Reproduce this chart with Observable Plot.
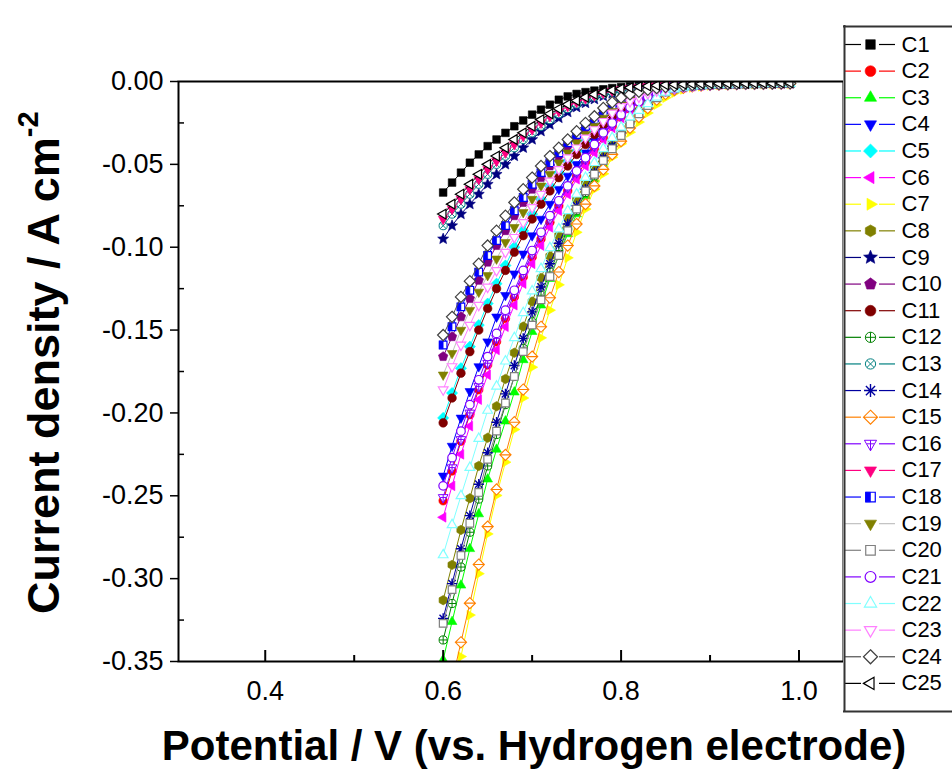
<!DOCTYPE html>
<html><head><meta charset="utf-8">
<script src="https://cdn.jsdelivr.net/npm/d3@7"></script>
<script src="https://cdn.jsdelivr.net/npm/@observablehq/plot@0.6"></script>
<style>
body{margin:0;background:#fff;}
#wrap{position:relative;width:952px;height:772px;overflow:hidden;background:#fff;}
#wrap svg{position:absolute;}
</style></head><body><div id="wrap"></div>
<script>
// ---------- data ----------
const V = [0.60,0.61,0.62,0.63,0.64,0.65,0.66,0.67,0.68,0.69,0.70,0.71,0.72,0.73,0.74,0.75,0.76,0.77,0.78,0.79,0.80,0.81,0.82,0.83,0.84,0.85,0.86,0.87,0.88,0.89,0.90,0.91,0.92,0.93,0.94,0.95,0.96,0.97,0.98,0.99];
const C1 = [-0.067,-0.061,-0.055,-0.049,-0.044,-0.039,-0.035,-0.031,-0.027,-0.0235,-0.020,-0.017,-0.014,-0.011,-0.009,-0.0075,-0.0064,-0.0055,-0.0047,-0.004,-0.0034,-0.0029,-0.0025,-0.0022,-0.002,-0.0018,-0.0016,-0.0015,-0.0014,-0.0013,-0.0012,-0.0011,-0.0011,-0.001,-0.001,-0.0009,-0.0009,-0.0009,-0.0008,-0.0008];
const C2 = [-0.253,-0.235,-0.217,-0.201,-0.186,-0.171,-0.157,-0.143,-0.130,-0.118,-0.106,-0.095,-0.085,-0.075,-0.066,-0.057,-0.049,-0.041,-0.034,-0.027,-0.0215,-0.0167,-0.0128,-0.0098,-0.0075,-0.0057,-0.0044,-0.0035,-0.0028,-0.0023,-0.002,-0.0018,-0.0016,-0.0015,-0.0014,-0.0013,-0.0013,-0.0012,-0.0012,-0.0011];
const C3 = [-0.349,-0.326,-0.304,-0.282,-0.261,-0.240,-0.222,-0.205,-0.1875,-0.168,-0.151,-0.135,-0.119,-0.105,-0.092,-0.080,-0.069,-0.059,-0.050,-0.042,-0.034,-0.0265,-0.020,-0.015,-0.0102,-0.0068,-0.0047,-0.0035,-0.0028,-0.0023,-0.002,-0.0018,-0.0017,-0.0016,-0.0015,-0.0014,-0.0014,-0.0013,-0.0013,-0.0012];
const C4 = [-0.238,-0.220,-0.203,-0.187,-0.172,-0.157,-0.142,-0.129,-0.116,-0.104,-0.093,-0.083,-0.074,-0.065,-0.057,-0.050,-0.043,-0.036,-0.030,-0.024,-0.019,-0.015,-0.0115,-0.0088,-0.0067,-0.0052,-0.0041,-0.0033,-0.0027,-0.0023,-0.002,-0.0018,-0.0016,-0.0015,-0.0014,-0.0013,-0.0013,-0.0012,-0.0012,-0.0011];
const C5 = [-0.203,-0.188,-0.173,-0.160,-0.147,-0.134,-0.122,-0.111,-0.100,-0.090,-0.080,-0.071,-0.063,-0.055,-0.048,-0.042,-0.036,-0.030,-0.025,-0.020,-0.016,-0.0125,-0.0097,-0.0075,-0.0058,-0.0046,-0.0037,-0.003,-0.0025,-0.0022,-0.0019,-0.0017,-0.0016,-0.0015,-0.0014,-0.0013,-0.0013,-0.0012,-0.0012,-0.0011];
const C6 = [-0.263,-0.244,-0.225,-0.208,-0.192,-0.177,-0.162,-0.148,-0.135,-0.122,-0.110,-0.099,-0.088,-0.078,-0.068,-0.059,-0.051,-0.043,-0.035,-0.028,-0.022,-0.017,-0.013,-0.010,-0.0077,-0.0059,-0.0045,-0.0036,-0.0029,-0.0024,-0.002,-0.0018,-0.0016,-0.0015,-0.0014,-0.0013,-0.0013,-0.0012,-0.0012,-0.0011];
const C7 = [-0.398,-0.372,-0.347,-0.322,-0.297,-0.273,-0.2498,-0.2297,-0.210,-0.191,-0.1724,-0.1547,-0.138,-0.1227,-0.1064,-0.091,-0.077,-0.065,-0.0557,-0.0457,-0.0376,-0.0306,-0.0245,-0.019,-0.014,-0.0098,-0.0068,-0.0048,-0.0036,-0.0029,-0.0024,-0.0021,-0.0019,-0.0017,-0.0016,-0.0015,-0.0014,-0.0014,-0.0013,-0.0013];
const C8 = [-0.313,-0.2917,-0.2706,-0.2515,-0.232,-0.215,-0.196,-0.1795,-0.1637,-0.1479,-0.1328,-0.1185,-0.1054,-0.093,-0.082,-0.071,-0.061,-0.052,-0.044,-0.037,-0.0295,-0.023,-0.0175,-0.013,-0.009,-0.006,-0.0043,-0.0033,-0.0026,-0.0022,-0.0019,-0.0017,-0.0016,-0.0015,-0.0014,-0.0014,-0.0013,-0.0013,-0.0012,-0.0012];
const C9 = [-0.095,-0.087,-0.080,-0.074,-0.068,-0.062,-0.056,-0.050,-0.045,-0.040,-0.035,-0.030,-0.026,-0.022,-0.0185,-0.0155,-0.013,-0.0107,-0.0088,-0.0072,-0.0059,-0.0048,-0.004,-0.0034,-0.0029,-0.0025,-0.0022,-0.0019,-0.0017,-0.0016,-0.0015,-0.0014,-0.0013,-0.0012,-0.0012,-0.0011,-0.0011,-0.001,-0.001,-0.001];
const C10 = [-0.166,-0.154,-0.142,-0.131,-0.120,-0.109,-0.099,-0.090,-0.081,-0.073,-0.065,-0.058,-0.051,-0.045,-0.039,-0.034,-0.029,-0.024,-0.020,-0.016,-0.013,-0.010,-0.008,-0.0063,-0.005,-0.004,-0.0033,-0.0028,-0.0024,-0.0021,-0.0018,-0.0016,-0.0015,-0.0014,-0.0013,-0.0013,-0.0012,-0.0012,-0.0011,-0.0011];
const C11 = [-0.206,-0.191,-0.176,-0.163,-0.150,-0.137,-0.125,-0.114,-0.103,-0.093,-0.083,-0.074,-0.066,-0.058,-0.051,-0.044,-0.038,-0.032,-0.026,-0.021,-0.017,-0.013,-0.010,-0.0078,-0.006,-0.0048,-0.0038,-0.0031,-0.0026,-0.0022,-0.0019,-0.0017,-0.0016,-0.0015,-0.0014,-0.0013,-0.0013,-0.0012,-0.0012,-0.0011];
const C12 = [-0.337,-0.315,-0.293,-0.272,-0.252,-0.232,-0.213,-0.195,-0.178,-0.161,-0.145,-0.129,-0.115,-0.102,-0.089,-0.078,-0.067,-0.057,-0.048,-0.040,-0.032,-0.025,-0.019,-0.0142,-0.0097,-0.0064,-0.0045,-0.0034,-0.0027,-0.0023,-0.002,-0.0018,-0.0017,-0.0016,-0.0015,-0.0014,-0.0014,-0.0013,-0.0013,-0.0012];
const C13 = [-0.087,-0.080,-0.074,-0.068,-0.062,-0.056,-0.050,-0.045,-0.040,-0.035,-0.031,-0.027,-0.023,-0.0195,-0.0163,-0.0136,-0.0113,-0.0093,-0.0077,-0.0063,-0.0052,-0.0043,-0.0036,-0.0031,-0.0027,-0.0023,-0.002,-0.0018,-0.0016,-0.0015,-0.0014,-0.0013,-0.0012,-0.0012,-0.0011,-0.0011,-0.001,-0.001,-0.001,-0.0009];
const C14 = [-0.324,-0.303,-0.282,-0.262,-0.243,-0.224,-0.2056,-0.1885,-0.1714,-0.155,-0.139,-0.124,-0.110,-0.0976,-0.086,-0.075,-0.065,-0.055,-0.046,-0.039,-0.031,-0.0245,-0.0188,-0.014,-0.0095,-0.0063,-0.0045,-0.0034,-0.0027,-0.0023,-0.002,-0.0018,-0.0017,-0.0016,-0.0015,-0.0014,-0.0014,-0.0013,-0.0013,-0.0012];
const C15 = [-0.386,-0.362,-0.3384,-0.3148,-0.2915,-0.2686,-0.2462,-0.2253,-0.2056,-0.1859,-0.166,-0.148,-0.1305,-0.115,-0.099,-0.086,-0.074,-0.063,-0.053,-0.044,-0.036,-0.028,-0.0215,-0.016,-0.011,-0.0075,-0.0052,-0.0038,-0.003,-0.0025,-0.0021,-0.0019,-0.0017,-0.0016,-0.0015,-0.0014,-0.0014,-0.0013,-0.0013,-0.0012];
const C16 = [-0.251,-0.233,-0.216,-0.200,-0.184,-0.170,-0.155,-0.141,-0.128,-0.116,-0.104,-0.093,-0.083,-0.073,-0.064,-0.055,-0.047,-0.039,-0.032,-0.026,-0.0205,-0.016,-0.0123,-0.0094,-0.0072,-0.0055,-0.0043,-0.0034,-0.0028,-0.0023,-0.002,-0.0018,-0.0016,-0.0015,-0.0014,-0.0013,-0.0013,-0.0012,-0.0012,-0.0011];
const C17 = [-0.083,-0.077,-0.071,-0.065,-0.059,-0.053,-0.048,-0.043,-0.038,-0.033,-0.029,-0.025,-0.021,-0.018,-0.015,-0.0125,-0.0104,-0.0086,-0.0071,-0.0058,-0.0048,-0.004,-0.0034,-0.0029,-0.0025,-0.0022,-0.0019,-0.0017,-0.0016,-0.0015,-0.0014,-0.0013,-0.0012,-0.0012,-0.0011,-0.0011,-0.001,-0.001,-0.001,-0.0009];
const C18 = [-0.159,-0.148,-0.136,-0.126,-0.115,-0.105,-0.096,-0.087,-0.078,-0.070,-0.062,-0.055,-0.049,-0.043,-0.037,-0.032,-0.027,-0.023,-0.019,-0.015,-0.012,-0.0095,-0.0075,-0.006,-0.0048,-0.0039,-0.0032,-0.0027,-0.0023,-0.002,-0.0018,-0.0016,-0.0015,-0.0014,-0.0013,-0.0013,-0.0012,-0.0012,-0.0011,-0.0011];
const C19 = [-0.177,-0.164,-0.150,-0.138,-0.127,-0.117,-0.107,-0.097,-0.088,-0.079,-0.071,-0.063,-0.056,-0.049,-0.043,-0.037,-0.032,-0.027,-0.022,-0.018,-0.014,-0.011,-0.0087,-0.0068,-0.0054,-0.0043,-0.0035,-0.0029,-0.0025,-0.0021,-0.0019,-0.0017,-0.0015,-0.0014,-0.0014,-0.0013,-0.0012,-0.0012,-0.0011,-0.0011];
const C20 = [-0.327,-0.3066,-0.286,-0.2666,-0.248,-0.228,-0.211,-0.194,-0.178,-0.163,-0.147,-0.1318,-0.1177,-0.105,-0.090,-0.077,-0.066,-0.056,-0.0477,-0.0406,-0.0326,-0.0255,-0.0195,-0.0145,-0.0098,-0.0064,-0.0045,-0.0034,-0.0027,-0.0023,-0.002,-0.0018,-0.0017,-0.0016,-0.0015,-0.0014,-0.0014,-0.0013,-0.0013,-0.0012];
const C21 = [-0.244,-0.227,-0.211,-0.195,-0.180,-0.166,-0.152,-0.138,-0.126,-0.114,-0.102,-0.091,-0.081,-0.072,-0.063,-0.054,-0.046,-0.038,-0.031,-0.025,-0.020,-0.0155,-0.012,-0.0092,-0.007,-0.0054,-0.0042,-0.0034,-0.0028,-0.0023,-0.002,-0.0018,-0.0016,-0.0015,-0.0014,-0.0013,-0.0013,-0.0012,-0.0012,-0.0011];
const C22 = [-0.2857,-0.2675,-0.250,-0.233,-0.2155,-0.1985,-0.184,-0.1688,-0.1547,-0.1396,-0.1265,-0.113,-0.1004,-0.089,-0.078,-0.068,-0.058,-0.049,-0.0406,-0.034,-0.0276,-0.0215,-0.0175,-0.0135,-0.0095,-0.0065,-0.0046,-0.0035,-0.0028,-0.0023,-0.002,-0.0018,-0.0016,-0.0015,-0.0014,-0.0014,-0.0013,-0.0013,-0.0012,-0.0012];
const C23 = [-0.186,-0.172,-0.159,-0.147,-0.135,-0.124,-0.114,-0.103,-0.094,-0.085,-0.076,-0.068,-0.060,-0.053,-0.046,-0.040,-0.034,-0.029,-0.024,-0.019,-0.015,-0.012,-0.0093,-0.0072,-0.0056,-0.0045,-0.0036,-0.003,-0.0025,-0.0022,-0.0019,-0.0017,-0.0016,-0.0015,-0.0014,-0.0013,-0.0013,-0.0012,-0.0012,-0.0011];
const C24 = [-0.153,-0.142,-0.130,-0.1205,-0.110,-0.099,-0.090,-0.081,-0.073,-0.065,-0.058,-0.051,-0.045,-0.040,-0.035,-0.030,-0.025,-0.021,-0.016,-0.0125,-0.0098,-0.0078,-0.0062,-0.005,-0.004,-0.0033,-0.0028,-0.0024,-0.0021,-0.0019,-0.0017,-0.0016,-0.0015,-0.0014,-0.0013,-0.0013,-0.0012,-0.0012,-0.0011,-0.0011];
const C25 = [-0.080,-0.074,-0.068,-0.062,-0.056,-0.050,-0.045,-0.040,-0.035,-0.031,-0.027,-0.023,-0.0195,-0.0165,-0.0138,-0.0115,-0.0095,-0.0078,-0.0064,-0.0053,-0.0044,-0.0037,-0.0031,-0.0027,-0.0023,-0.002,-0.0018,-0.0016,-0.0015,-0.0014,-0.0013,-0.0012,-0.0012,-0.0011,-0.0011,-0.001,-0.001,-0.001,-0.0009,-0.0009];

const seriesNames = ["C1","C2","C3","C4","C5","C6","C7","C8","C9","C10","C11","C12","C13","C14","C15","C16","C17","C18","C19","C20","C21","C22","C23","C24","C25"];
const seriesValues = [C1,C2,C3,C4,C5,C6,C7,C8,C9,C10,C11,C12,C13,C14,C15,C16,C17,C18,C19,C20,C21,C22,C23,C24,C25];
const markColors = ["#000000","#ff0000","#00ff00","#0000ff","#00ffff","#ff00ff","#ffff00","#808000","#000080","#800080","#800000","#008000","#008080","#0000a0","#ff8000","#8000ff","#ff0080","#0000ff","#808000","#808080","#8000ff","#80ffff","#ff80ff","#404040","#000000"];
const lineColors = ["#000000","#ff0000","#00ff00","#0000ff","#00ffff","#ff00ff","#ffff00","#808000","#000080","#800080","#800000","#008000","#008080","#0000a0","#ff8000","#8000ff","#ff0080","#0000ff","#c0c0c0","#808080","#8000ff","#80ffff","#ff80ff","#505050","#000000"];
const markerKinds = ["square","circle","triUp","triDown","diamond","triLeft","triRight","hexagon","star","pentagon","ball","circlePlus","circleX","asterisk","diamondBar","triDownPlus","triDown","halfSquare","triDown","openSquare","openCircle","openTriUp","openTriDown","openDiamond","openTriLeft"];

const xMajor = [0.4, 0.6, 0.8, 1.0];
const xMinor = [0.5, 0.7, 0.9];
const yMajor = [0, -0.05, -0.10, -0.15, -0.20, -0.25, -0.30, -0.35];
const yMinor = [-0.025, -0.075, -0.125, -0.175, -0.225, -0.275, -0.325];

// ---------- symbols ----------
const TAU = Math.PI * 2;
function poly(n, rot, k) {
  return {draw(ctx, size) {
    const a = Math.sqrt(size / Math.PI) * k;
    for (let i = 0; i < n; i++) {
      const t = rot + i * TAU / n;
      const px = a * Math.cos(t), py = a * Math.sin(t);
      if (i) ctx.lineTo(px, py); else ctx.moveTo(px, py);
    }
    ctx.closePath();
  }};
}
const SYM = {
  square: poly(4, Math.PI / 4, 1.25),
  circle: {draw(ctx, size) { const a = Math.sqrt(size / Math.PI); ctx.moveTo(a, 0); ctx.arc(0, 0, a, 0, TAU); }},
  triUp: poly(3, -Math.PI / 2, 1.3),
  triDown: poly(3, Math.PI / 2, 1.3),
  triLeft: poly(3, Math.PI, 1.3),
  triRight: poly(3, 0, 1.3),
  diamond: poly(4, -Math.PI / 2, 1.3),
  hexagon: poly(6, -Math.PI / 2, 1.1),
  pentagon: poly(5, -Math.PI / 2, 1.15),
  star: {draw(ctx, size) {
    const a = Math.sqrt(size / Math.PI) * 1.35, b = a * 0.45;
    for (let i = 0; i < 10; i++) {
      const t = -Math.PI / 2 + i * Math.PI / 5, rr = i % 2 ? b : a;
      const px = rr * Math.cos(t), py = rr * Math.sin(t);
      if (i) ctx.lineTo(px, py); else ctx.moveTo(px, py);
    }
    ctx.closePath();
  }},
  circlePlus: {draw(ctx, size) { const a = Math.sqrt(size / Math.PI) * 0.95; ctx.moveTo(a, 0); ctx.arc(0, 0, a, 0, TAU); ctx.moveTo(-a, 0); ctx.lineTo(a, 0); ctx.moveTo(0, -a); ctx.lineTo(0, a); }},
  circleX: {draw(ctx, size) { const a = Math.sqrt(size / Math.PI) * 0.95, d = a * 0.7071; ctx.moveTo(a, 0); ctx.arc(0, 0, a, 0, TAU); ctx.moveTo(-d, -d); ctx.lineTo(d, d); ctx.moveTo(d, -d); ctx.lineTo(-d, d); }},
  asterisk: {draw(ctx, size) { const a = Math.sqrt(size / Math.PI) * 1.2; for (let i = 0; i < 4; i++) { const t = i * Math.PI / 4; ctx.moveTo(-a * Math.cos(t), -a * Math.sin(t)); ctx.lineTo(a * Math.cos(t), a * Math.sin(t)); } }},
  diamondBar: {draw(ctx, size) { const a = Math.sqrt(size / Math.PI) * 1.3; ctx.moveTo(0, -a); ctx.lineTo(a, 0); ctx.lineTo(0, a); ctx.lineTo(-a, 0); ctx.closePath(); ctx.moveTo(-a, 0); ctx.lineTo(a, 0); }},
  triDownPlus: {draw(ctx, size) { const a = Math.sqrt(size / Math.PI) * 1.3; const h = a / 2, w = a * 0.866; ctx.moveTo(-w, -h); ctx.lineTo(w, -h); ctx.lineTo(0, a); ctx.closePath(); ctx.moveTo(0, -h); ctx.lineTo(0, a); ctx.moveTo(-w * 0.6, 0); ctx.lineTo(w * 0.6, 0); }},
  halfLeft: {draw(ctx, size) { const s = Math.sqrt(size / Math.PI) * 1.25 * 0.7071; ctx.moveTo(-s, -s); ctx.lineTo(0, -s); ctx.lineTo(0, s); ctx.lineTo(-s, s); ctx.closePath(); }}
};

function dotMarks(data, kind, color, r, opts) {
  const base = Object.assign({x: "x", y: "y", r}, opts || {});
  const filled = (sym) => Plot.dot(data, {...base, symbol: sym, fill: color, stroke: color, strokeWidth: 0.6});
  const open = (sym, sw) => Plot.dot(data, {...base, symbol: sym, fill: "white", stroke: color, strokeWidth: sw || 1.2});
  switch (kind) {
    case "square": return [filled(SYM.square)];
    case "circle": return [filled(SYM.circle)];
    case "ball": return [filled(SYM.circle)];
    case "triUp": return [filled(SYM.triUp)];
    case "triDown": return [filled(SYM.triDown)];
    case "triLeft": return [filled(SYM.triLeft)];
    case "triRight": return [filled(SYM.triRight)];
    case "diamond": return [filled(SYM.diamond)];
    case "hexagon": return [filled(SYM.hexagon)];
    case "pentagon": return [filled(SYM.pentagon)];
    case "star": return [filled(SYM.star)];
    case "circlePlus": return [open(SYM.circlePlus, 1)];
    case "circleX": return [open(SYM.circleX, 1)];
    case "asterisk": return [Plot.dot(data, {...base, symbol: SYM.asterisk, fill: "none", stroke: color, strokeWidth: 1.4})];
    case "diamondBar": return [open(SYM.diamondBar, 1.1)];
    case "triDownPlus": return [open(SYM.triDownPlus, 1)];
    case "halfSquare": return [open(SYM.square, 1.2), filled(SYM.halfLeft)];
    case "openSquare": return [open(SYM.square)];
    case "openCircle": return [open(SYM.circle)];
    case "openTriUp": return [open(SYM.triUp)];
    case "openTriDown": return [open(SYM.triDown)];
    case "openDiamond": return [open(SYM.diamond)];
    case "openTriLeft": return [open(SYM.triLeft)];
  }
  return [];
}

// ---------- main chart ----------
const FONT = "'Liberation Sans', Arial, Helvetica, sans-serif";
const xLo = 0.3025, xHi = 1.05, yLo = -0.35, yHi = 0;
const pxX = (xHi - xLo) / 665, pxY = (yHi - yLo) / 580; // data units per pixel

const marks = [];
seriesValues.forEach((vals, i) => {
  const data = vals.map((v, k) => ({x: V[k], y: v}));
  marks.push(Plot.line(data, {x: "x", y: "y", stroke: lineColors[i], strokeWidth: 1, clip: true}));
  marks.push(...dotMarks(data, markerKinds[i], markColors[i], 4.3, {clip: true}));
});
// ticks
marks.push(Plot.ruleX(xMajor, {x: d => d, y1: yLo, y2: yLo + 11 * pxY, stroke: "#000", strokeWidth: 2}));
marks.push(Plot.ruleX(xMinor, {x: d => d, y1: yLo, y2: yLo + 6 * pxY, stroke: "#000", strokeWidth: 2}));
marks.push(Plot.ruleY(yMajor, {y: d => d, x1: xLo - 8 * pxX, x2: xLo, stroke: "#000", strokeWidth: 1.5}));
marks.push(Plot.ruleY(yMinor, {y: d => d, x1: xLo, x2: xLo + 6 * pxX, stroke: "#000", strokeWidth: 1.5}));
marks.push(Plot.frame({stroke: "#000", strokeWidth: 2}));
// tick labels
marks.push(Plot.text(yMajor, {x: xLo, y: d => d, text: d => d.toFixed(2), textAnchor: "end", dx: -15, fontSize: 27, fill: "#000", lineAnchor: "middle"}));
marks.push(Plot.text(xMajor, {x: d => d, y: yLo, text: d => d.toFixed(1), textAnchor: "middle", dy: 30, fontSize: 27, fill: "#000", lineAnchor: "middle"}));

const chart = Plot.plot({
  width: 952, height: 772,
  marginLeft: 178, marginRight: 109, marginTop: 81, marginBottom: 111,
  x: {domain: [xLo, xHi], axis: null},
  y: {domain: [yLo, yHi], axis: null},
  style: {fontFamily: FONT, background: "white", overflow: "visible"},
  marks
});
const wrap = document.getElementById("wrap");
chart.style.left = "0px"; chart.style.top = "0px";
wrap.appendChild(chart);

// axis titles
const svg = d3.select(chart);
svg.append("text")
  .attr("x", 534).attr("y", 760)
  .attr("text-anchor", "middle")
  .attr("font-family", FONT).attr("font-weight", "bold").attr("font-size", 42)
  .attr("fill", "#000")
  .text("Potential / V (vs. Hydrogen electrode)");
const yt = svg.append("text")
  .attr("transform", "translate(59,614) rotate(-90)")
  .attr("text-anchor", "start")
  .attr("font-family", FONT).attr("font-weight", "bold").attr("font-size", 45)
  .attr("fill", "#000");
yt.append("tspan").text("Current density / A cm");
yt.append("tspan").attr("dy", -21).attr("font-size", 29).text("-2");

// ---------- legend (second Plot, pixel identity scales) ----------
const legendMarks = [];
const LH = 687, LW = 109;
seriesNames.forEach((name, i) => {
  const yy = 19 + i * 26.62;
  legendMarks.push(Plot.ruleY([yy], {x1: 2, x2: 18, stroke: lineColors[i], strokeWidth: 1.2}));
  legendMarks.push(Plot.ruleY([yy], {x1: 36, x2: 52, stroke: lineColors[i], strokeWidth: 1.2}));
  legendMarks.push(...dotMarks([{x: 27, y: yy}], markerKinds[i], markColors[i], 5.4));
  legendMarks.push(Plot.text([name], {x: 58, y: yy, text: d => d, textAnchor: "start", lineAnchor: "middle", fontSize: 22, fill: "#000"}));
});
legendMarks.push(Plot.ruleX([1], {y1: 0, y2: LH, stroke: "#333", strokeWidth: 2}));
legendMarks.push(Plot.ruleY([1, LH - 1], {x1: 0, x2: LW, stroke: "#333", strokeWidth: 2}));
const legend = Plot.plot({
  width: LW, height: LH, margin: 0,
  x: {type: "identity", axis: null},
  y: {type: "identity", axis: null},
  style: {fontFamily: FONT, background: "white", overflow: "visible"},
  marks: legendMarks
});
legend.style.left = "843px"; legend.style.top = "25px";
wrap.appendChild(legend);
</script></body></html>
